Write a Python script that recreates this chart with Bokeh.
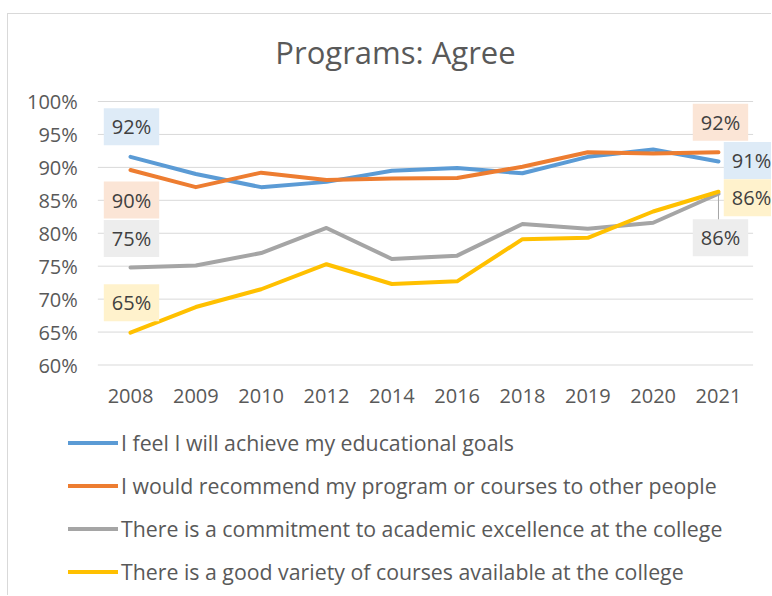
import math
from bokeh.plotting import figure
from bokeh.models import Legend, LegendItem, Range1d, Label
from bokeh.core.properties import value
from bokeh.embed import file_html
from bokeh.resources import INLINE

# ---- data ----
years = ["2008", "2009", "2010", "2012", "2014", "2016", "2018", "2019", "2020", "2021"]
goals = [0.916, 0.890, 0.870, 0.878, 0.895, 0.899, 0.891, 0.916, 0.927, 0.909]
recommend = [0.896, 0.870, 0.892, 0.881, 0.883, 0.884, 0.901, 0.923, 0.921, 0.923]
excellence = [0.748, 0.751, 0.770, 0.808, 0.761, 0.766, 0.814, 0.807, 0.816, 0.860]
variety = [0.649, 0.688, 0.715, 0.753, 0.723, 0.727, 0.791, 0.793, 0.833, 0.863]
series_names = [
    "I feel I will achieve my educational goals",
    "I would recommend my program or courses to other people",
    "There is a commitment to academic excellence at the college",
    "There is a good variety of courses available at the college",
]
y_ticks = [0.60, 0.65, 0.70, 0.75, 0.80, 0.85, 0.90, 0.95, 1.00]
title_text = "Programs: Agree"

colors = ["#5B9BD5", "#ED7D31", "#A5A5A5", "#FFC000"]
label_bg = ["#DEEBF7", "#FBE5D6", "#EDEDED", "#FFF2CC"]
FONT = "Open Sans"
TXT = "#595959"

W, H = 764, 582
xs = list(range(len(years)))          # category positions
x_lo, x_hi = -0.5, len(years) - 0.5   # category band edges

# the whole canvas is the plotting frame so that labels and legend are not clipped
p = figure(width=W, height=H, title=None, output_backend="svg", toolbar_location=None,
           x_range=Range1d(-1.8674, 9.827), y_range=Range1d(0.24858, 1.13207),
           x_axis_location=None, y_axis_location=None,
           min_border_left=0, min_border_right=0, min_border_top=0, min_border_bottom=0)
p.styles = {"border-left": "1px solid #D9D9D9", "border-top": "1px solid #D9D9D9",
            "margin-top": "13px", "margin-left": "7px"}
p.outline_line_color = None
p.background_fill_color = "white"
p.border_fill_color = "white"
p.grid.grid_line_color = None
p.grid.visible = False

# horizontal gridlines at the value ticks
p.segment(x0=[x_lo] * len(y_ticks), x1=[x_hi + 0.03] * len(y_ticks), y0=y_ticks, y1=y_ticks,
          line_color="#D9D9D9", line_width=1)

# value-axis tick labels
p.text(x=[x_lo] * len(y_ticks), y=y_ticks, text=[f"{round(t * 100)}%" for t in y_ticks],
       x_offset=-20, text_align="right", text_baseline="middle",
       text_font=value(FONT), text_font_size="20px", text_color=TXT)
# category-axis tick labels
p.text(x=xs, y=[y_ticks[0]] * len(xs), text=years, y_offset=30.5,
       text_align="center", text_baseline="middle",
       text_font=value(FONT), text_font_size="20px", text_color=TXT)

all_series = [goals, recommend, excellence, variety]
renderers = []
for vals, c in zip(all_series, colors):
    r = p.line(xs, vals, line_color=c, line_width=4, line_join="round", line_cap="round")
    renderers.append(r)

# leader line for the grey 2021 label
p.ray(x=[xs[-1]], y=[excellence[-1]], length=27, length_units="screen",
      angle=-math.pi / 2, line_color="#A5A5A5", line_width=1)

# data labels (pixel offsets: x right, y up)
first_off = [(1, 30), (1, -30), (1, 29), (1, 30)]
last_off = [(33, 1), (2, 30), (2, -44), (33, -6)]
for i in range(4):
    for idx, off in ((0, first_off[i]), (len(xs) - 1, last_off[i])):
        v = all_series[i][idx]
        p.add_layout(Label(x=xs[idx], y=v, x_offset=off[0], y_offset=off[1],
                           text=f"{round(v * 100)}%", text_font=FONT, text_font_size="20px",
                           text_color="#404040", text_align="center", text_baseline="middle",
                           background_fill_color=label_bg[i], padding=(8, 5)))

# chart title
p.add_layout(Label(x=387, y=H - 37, x_units="screen", y_units="screen", text=title_text,
                   text_font=FONT, text_font_size="31px", text_color=TXT,
                   text_align="center", text_baseline="middle"))

legend = Legend(items=[LegendItem(label=n, renderers=[r]) for n, r in zip(series_names, renderers)],
                location=(60, 10), orientation="vertical",
                glyph_width=50, glyph_height=29, label_height=29, spacing=14,
                label_standoff=3, padding=0, margin=0,
                border_line_color=None, background_fill_alpha=0,
                label_text_font=FONT, label_text_font_size="21.3px", label_text_color=TXT)
p.add_layout(legend)

open("out.html", "w").write(file_html(p, INLINE))
